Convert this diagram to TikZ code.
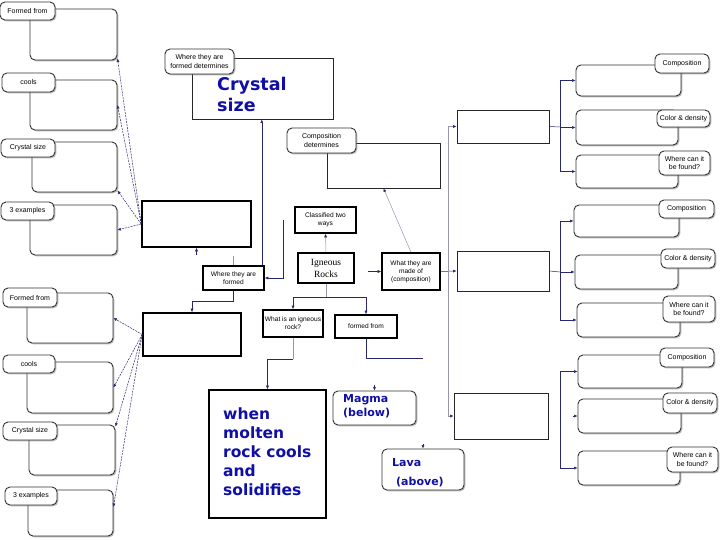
\documentclass[tikz,border=0pt]{standalone}
\usepackage{fontspec}
\setmainfont{Liberation Sans}
\newfontfamily\bluefont{DejaVu Sans}
\newfontfamily\rockfont{Liberation Serif}
\usetikzlibrary{shadows,arrows.meta,calc}
\definecolor{navy}{RGB}{40,40,110}
\definecolor{txtblue}{RGB}{15,15,165}
\definecolor{linegray}{RGB}{150,150,175}
\tikzset{
  shad/.style={drop shadow={shadow xshift=1.3pt,shadow yshift=-1.3pt,fill=black!55}},
  bigbox/.style={draw=black!80, line width=0.9pt, rounded corners=5pt, fill=white, shad},
  tagbox/.style={draw=black!80, line width=0.9pt, rounded corners=5pt, fill=white, shad,
    font=\fontsize{7}{8.4}\selectfont, align=center},
  thickbox/.style={draw=black, line width=1.6pt, fill=white, shad,
    font=\fontsize{6.6}{8}\selectfont, align=center},
  plainbox/.style={draw=black!85, line width=0.9pt, fill=white, shad},
  tip/.style={-{Latex[length=3.5pt,width=3pt,color=navy]}},
  arr/.style={draw=navy, line width=0.5pt, tip},
  garr/.style={draw=linegray, line width=0.5pt, tip},
  ln/.style={draw=navy, line width=0.5pt},
  gln/.style={draw=linegray, line width=0.5pt},
  fan/.style={arr, dash pattern=on 2pt off 1pt},
  bluetxt/.style={text=txtblue, inner sep=0pt, anchor=north west, align=left},
}
% style, name, x1, y1, x2, y2, text  (pixel coordinates, y downwards)
\newcommand\placebox[7]{\node[#1, inner sep=0pt, minimum width={#5-#3}, minimum height={#6-#4}] (#2) at ({(#3+#5)/2},{(#4+#6)/2}) {#7};}
\begin{document}
\begin{tikzpicture}[x=1pt,y=-1pt]
\useasboundingbox[fill=white] (0,0) rectangle (720,540);

% ---------- left top column ----------
\placebox{bigbox}{L1}{30}{9}{117}{60}{}
\placebox{tagbox}{L1t}{0}{2}{55}{20}{Formed from}
\placebox{bigbox}{L2}{30}{80}{117}{130}{}
\placebox{tagbox}{L2t}{2}{73}{55}{92}{cools}
\placebox{bigbox}{L3}{32}{142}{117}{192}{}
\placebox{tagbox}{L3t}{1}{139}{55}{157}{Crystal size}
\placebox{bigbox}{L4}{30}{205}{117}{255}{}
\placebox{tagbox}{L4t}{1}{202}{54}{220}{3 examples}

% ---------- left bottom column ----------
\placebox{bigbox}{B1}{27}{293}{113}{343}{}
\placebox{tagbox}{B1t}{3}{288}{57}{307}{Formed from}
\placebox{bigbox}{B2}{27}{362}{113}{413}{}
\placebox{tagbox}{B2t}{3}{355}{55}{373}{cools}
\placebox{bigbox}{B3}{29}{425}{115}{475}{}
\placebox{tagbox}{B3t}{3}{422}{57}{440}{Crystal size}
\placebox{bigbox}{B4}{28}{490}{113}{536}{}
\placebox{tagbox}{B4t}{5}{487}{57}{505}{3 examples}

% ---------- centre ----------
\placebox{thickbox}{tl}{142}{201}{251}{247}{}
\placebox{thickbox}{bl}{143}{313}{241}{356}{}

\placebox{plainbox}{crystal}{192}{58}{333}{119}{}
\placebox{tagbox}{wfd}{165}{49}{234}{74}{Where they are\\formed determines}
\node[bluetxt, font=\bluefont\bfseries\fontsize{17.5}{21}\selectfont] (crystaltxt) at (217,77) {Crystal\\size};

\placebox{plainbox}{comp}{327}{143}{440}{188}{}
\placebox{tagbox}{cd}{287}{128}{356}{153}{Composition\\determines}

\placebox{thickbox}{classified}{295}{207}{356}{233}{Classified two\\ways}
\placebox{thickbox, font=\rockfont\fontsize{9.5}{12}\selectfont}{igneous}{298}{253}{354}{283}{Igneous\\Rocks}
\placebox{thickbox}{where}{203}{266}{264}{290}{Where they are\\formed}
\placebox{thickbox}{whatis}{263}{310}{323}{337}{What is an igneous\\rock?}
\placebox{thickbox}{formedfrom}{335}{315}{397}{338}{formed from}
\placebox{thickbox}{madeof}{382}{253}{440}{290}{What they are\\made of\\(composition)}

\placebox{thickbox}{molten}{209}{390}{326}{518}{}
\node[bluetxt, font=\bluefont\bfseries\fontsize{15.5}{19}\selectfont] (moltentxt) at (223,408) {when\\molten\\rock cools\\and\\solidifies};

\placebox{bigbox}{magma}{333}{391}{416}{425}{}
\node[bluetxt, font=\bluefont\bfseries\fontsize{11}{14}\selectfont] (magmatxt) at (343,394) {Magma\\(below)};
\placebox{bigbox}{lava}{382}{449}{464}{490}{}
\node[bluetxt, font=\bluefont\bfseries\fontsize{11}{14}\selectfont, anchor=base west] (lavatxt) at (392,466) {Lava};
\node[bluetxt, font=\bluefont\bfseries\fontsize{11}{14}\selectfont, anchor=base west] (abovetxt) at (396,485) {(above)};

% ---------- right column ----------
\placebox{plainbox}{R1}{457}{110}{549}{143}{}
\placebox{plainbox}{R2}{457}{251}{549}{291}{}
\placebox{plainbox}{R3}{454}{393}{548}{439}{}

\placebox{bigbox}{G1a}{576}{65}{681}{96}{}
\placebox{tagbox}{G1at}{655}{54}{709}{73}{Composition}
\placebox{bigbox}{G1b}{576}{110}{678}{145}{}
\placebox{tagbox}{G1bt}{657}{110}{710}{127}{Color \& density}
\placebox{bigbox}{G1c}{576}{155}{678}{188}{}
\placebox{tagbox}{G1ct}{659}{151}{710}{175}{Where can it\\be found?}

\placebox{bigbox}{G2a}{574}{205}{679}{237}{}
\placebox{tagbox}{G2at}{659}{200}{714}{218}{Composition}
\placebox{bigbox}{G2b}{575}{255}{678}{289}{}
\placebox{tagbox}{G2bt}{661}{249}{715}{268}{Color \& density}
\placebox{bigbox}{G2c}{577}{303}{680}{337}{}
\placebox{tagbox}{G2ct}{663}{296}{715}{322}{Where can it\\be found?}

\placebox{bigbox}{G3a}{578}{355}{682}{388}{}
\placebox{tagbox}{G3at}{660}{348}{714}{367}{Composition}
\placebox{bigbox}{G3b}{578}{399}{681}{433}{}
\placebox{tagbox}{G3bt}{663}{393}{717}{413}{Color \& density}
\placebox{bigbox}{G3c}{578}{451}{680}{485}{}
\placebox{tagbox}{G3ct}{667}{447}{718}{472}{Where can it\\be found?}

% ---------- connectors: left fans ----------
\draw[fan] (tl.west) -- ([yshift=2pt]L1.south east);
\draw[fan] (tl.west) -- (L2.east);
\draw[fan] (tl.west) -- ([yshift=2pt]L3.south east);
\draw[fan] (tl.west) -- (L4.east);
\draw[fan] (bl.west) -- (B1.east);
\draw[fan] (bl.west) -- (B2.east);
\draw[fan] (bl.west) -- ([yshift=-2pt]B3.north east);
\draw[fan] (bl.west) -- ([yshift=6pt]B4.east);

% ---------- connectors: centre ----------
\coordinate (wup) at ([xshift=-3pt]where.north east);
\draw[arr] (wup) -- (wup |- crystal.south);
\draw[gln] (where.north) -- ++(0,-9);
\draw[arr] ([yshift=-7pt]tl.south) -- (tl.south);
\draw[arr] (where.south) -- ++(0,10) -| (bl.north);
\coordinate (wfree) at (283,220);
\draw[arr] (wfree) |- (where.east);

\draw[garr] (igneous.north) -- (classified.south);
\draw[gln] (igneous.south) -- ++(0,13);
\draw[arr] (igneous.south) ++(0,13) -| (whatis.north);
\draw[arr] (igneous.south) ++(0,13) -| (formedfrom.north);
\draw[arr, shorten <=13pt] (igneous.east |- madeof.west) -- (madeof.west);

\draw[arr] (madeof.east) -- (R2.west);
\coordinate (jv) at (448,272);
\draw[garr] (jv) |- (R1.west);
\draw[garr] (jv) |- (R3.west);
\draw[garr] (madeof.north) -- (comp.south);

\draw[gln] (whatis.south) -- ++(0,21);
\draw[arr] (whatis.south) ++(0,21) -| (molten.north);

\coordinate (ffend) at (423,358);
\draw[ln] (formedfrom.south) |- (ffend);
\draw[arr] ([yshift=6pt]magma.north) -- (magma.north);
\draw[arr] ([yshift=5pt]lava.north) -- (lava.north);

% ---------- connectors: right groups ----------
\coordinate (j1) at (560,127);
\draw[ln] (R1.east) -- (j1);
\draw[arr] (j1) |- (G1a.west);
\draw[arr] (j1) |- (G1b.west);
\draw[arr] (j1) |- (G1c.west);

\coordinate (j2) at (560,272);
\draw[ln] (R2.east) -- (j2);
\draw[arr] (j2) |- (G2a.west);
\draw[arr] (j2) |- (G2b.west);
\draw[arr] (j2) |- (G2c.west);

\coordinate (j3) at (560,417);
\draw[arr] (j3) |- (G3a.west);
\draw[arr] (j3) |- (G3c.west);
\draw[arr] ([xshift=-5pt]G3b.west) -- (G3b.west);
\end{tikzpicture}
\end{document}
